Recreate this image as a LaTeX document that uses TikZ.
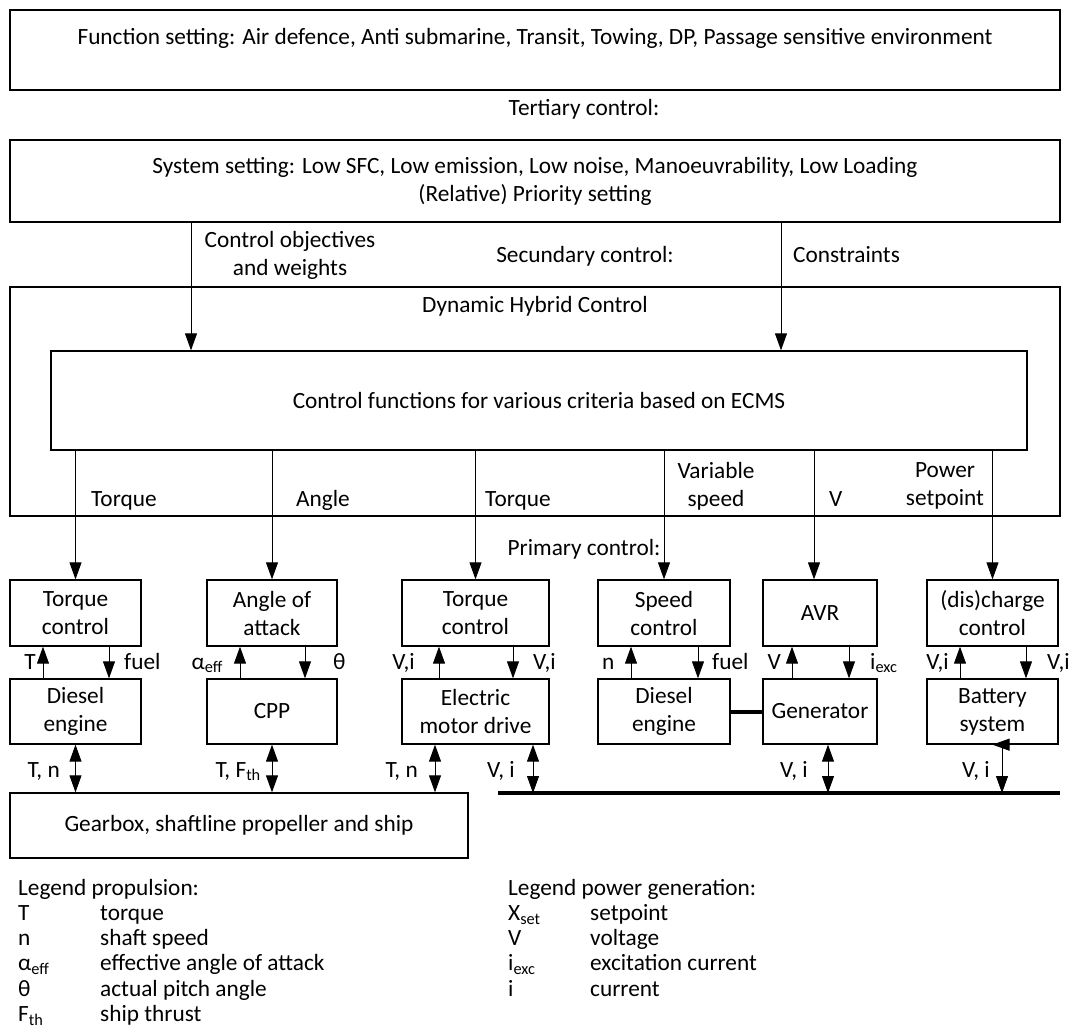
\documentclass[tikz,border=0pt]{standalone}
\usepackage{fontspec}
\setmainfont{Carlito}
\usetikzlibrary{positioning,arrows.meta}

\begin{document}
\begin{tikzpicture}[
			x=1pt, y=-1pt,
			font=\fontsize{23.3}{28}\selectfont,
			% 有边框的方块
			blockbox/.style={rectangle, draw=black, line width=1.3pt, align=center, inner sep=0pt},
			% 信号的文字
			tag/.style={inner sep=0pt, align=center},
			% 单向箭头
			sig/.style={-{Triangle[length=17pt,width=12pt]}, line width=0.9pt},
			% 双向箭头
			bisig/.style={{Triangle[length=17pt,width=12pt]}-{Triangle[length=17pt,width=12pt]}, line width=0.9pt},
			% 粗线: 母线和轴
			busline/.style={line width=4pt}
		]
		\useasboundingbox (0,0) rectangle (1069,1034);

		%Nodes
		\node[blockbox, minimum width=1050, minimum height=80]  (funcset)   at (535,50)     {};
		\node[tag, anchor=base]                                 (functext)  at (535,44)     {Function setting: Air defence, Anti submarine, Transit, Towing, DP, Passage sensitive environment};
		\node[tag, anchor=base]                                 (tertiary)  at (584,115)    {Tertiary control:};
		\node[blockbox, minimum width=1050, minimum height=82]  (sysset)    at (535,181)    {System setting: Low SFC, Low emission, Low noise, Manoeuvrability, Low Loading\\(Relative) Priority setting};
		\node[tag]                                              (objtext)   at (290,255)    {Control objectives\\and weights};
		\node[tag, anchor=base]                                 (secundary) at (585,262)    {Secundary control:};
		\node[tag, anchor=base west]                            (context)   at (793,262)    {Constraints};
		\node[blockbox, minimum width=1050, minimum height=229] (dhc)       at (535,401.5)  {};
		\node[tag, anchor=base]                                 (dhctext)   at (535,312)    {Dynamic Hybrid Control};
		\node[blockbox, minimum width=976, minimum height=99]   (ecms)      at (539,400.5)  {Control functions for various criteria based on ECMS};

		% 下发给各个控制器的设定值
		\node[tag, anchor=base west]                            (settqa)    at (91,506)     {Torque};
		\node[tag, anchor=base west]                            (setangle)  at (296,506)    {Angle};
		\node[tag, anchor=base west]                            (settqb)    at (485,506)    {Torque};
		\node[tag]                                              (setspeed)  at (716,486)    {Variable\\speed};
		\node[tag, anchor=base west]                            (setvolt)   at (829,506)    {V};
		\node[tag]                                              (setpower)  at (945,486)    {Power\\setpoint};
		\node[tag, anchor=base]                                 (primary)   at (584,555)    {Primary control:};

		% 控制器
		\node[blockbox, minimum width=131, minimum height=66]   (tqctrla)   at (75.5,613)   {Torque\\control};
		\node[blockbox, minimum width=130, minimum height=66]   (aoa)       at (272,613)    {Angle of\\attack};
		\node[blockbox, minimum width=147, minimum height=66]   (tqctrlb)   at (475.5,613)  {Torque\\control};
		\node[blockbox, minimum width=132, minimum height=66]   (spdctrl)   at (664,613)    {Speed\\control};
		\node[blockbox, minimum width=114, minimum height=66]   (avr)       at (820,613)    {AVR};
		\node[blockbox, minimum width=131, minimum height=66]   (chgctrl)   at (992.5,613)  {(dis)charge\\control};

		% 设备
		\node[blockbox, minimum width=131, minimum height=65]   (diesela)   at (75.5,711.5) {Diesel\\engine};
		\node[blockbox, minimum width=130, minimum height=65]   (cpp)       at (272,711.5)  {CPP};
		\node[blockbox, minimum width=147, minimum height=65]   (emd)       at (475.5,711.5){Electric\\motor drive};
		\node[blockbox, minimum width=132, minimum height=65]   (dieselb)   at (664,711.5)  {Diesel\\engine};
		\node[blockbox, minimum width=114, minimum height=65]   (gen)       at (820,711.5)  {Generator};
		\node[blockbox, minimum width=131, minimum height=65]   (batt)      at (992.5,711.5){Battery\\system};
		\node[blockbox, minimum width=458, minimum height=65]   (gearbox)   at (239,825.5)  {Gearbox, shaftline propeller and ship};

		% 控制器和设备之间的信号
		\node[tag, anchor=base east]                            (fbtqa)     at (36,669)     {T};
		\node[tag, anchor=base west]                            (fuela)     at (124,669)    {fuel};
		\node[tag, anchor=base east]                            (fbaoa)     at (223,669)    {α\textsubscript{eff}};
		\node[tag, anchor=base west]                            (pitch)     at (333,669)    {θ};
		\node[tag, anchor=base east]                            (fbemd)     at (415,669)    {V,i};
		\node[tag, anchor=base west]                            (cmdemd)    at (533,669)    {V,i};
		\node[tag, anchor=base west]                            (fbspd)     at (602,669)    {n};
		\node[tag, anchor=base west]                            (fuelb)     at (712,669)    {fuel};
		\node[tag, anchor=base east]                            (fbavr)     at (781,669)    {V};
		\node[tag, anchor=base west]                            (iexc)      at (870,669)    {i\textsubscript{exc}};
		\node[tag, anchor=base east]                            (fbchg)     at (949,669)    {V,i};
		\node[tag, anchor=base west]                            (cmdchg)    at (1047,669)   {V,i};

		% 设备和船或电网之间
		\node[tag, anchor=base east]                            (mecha)     at (60,777)     {T, n};
		\node[tag, anchor=base east]                            (mechcpp)   at (261,777)    {T, F\textsubscript{th}};
		\node[tag, anchor=base east]                            (mechemd)   at (418,777)    {T, n};
		\node[tag, anchor=base east]                            (elecemd)   at (515,777)    {V, i};
		\node[tag, anchor=base east]                            (elecgen)   at (808,777)    {V, i};
		\node[tag, anchor=base east]                            (elecbatt)  at (990,777)    {V, i};

		% 看不见的点, 用来定位竖线和母线
		\coordinate (objset)   at (191,0);
		\coordinate (conset)   at (781,0);
		\coordinate (avrset)   at (814,0);
		\coordinate (emdmech)  at (435,0);
		\coordinate (emdelec)  at (533,0);
		\coordinate (genelec)  at (828,0);
		\coordinate (battelec) at (1002,0);
		\coordinate (busl)     at (498,793);
		\coordinate (busr)     at (1060,793);

		% 图例
		\node[tag, anchor=base west] (legprop) at (18,895)  {Legend propulsion:};
		\foreach \sym/\desc [count=\k] in {T/torque, n/shaft speed, α\textsubscript{eff}/effective angle of attack, θ/actual pitch angle, F\textsubscript{th}/ship thrust}{
			\node[tag, anchor=base west] (propsym\k)  at (18,895+25.3*\k)  {\sym};
			\node[tag, anchor=base west] (propdesc\k) at (100,895+25.3*\k) {\desc};
		}
		\node[tag, anchor=base west] (legpower) at (508,895) {Legend power generation:};
		\foreach \sym/\desc [count=\k] in {X\textsubscript{set}/setpoint, V/voltage, i\textsubscript{exc}/excitation current, i/current}{
			\node[tag, anchor=base west] (powsym\k)  at (508,895+25.3*\k) {\sym};
			\node[tag, anchor=base west] (powdesc\k) at (590,895+25.3*\k) {\desc};
		}

		%Lines
		\draw[sig] (sysset.south -| objset)  --  (ecms.north -| objset);
		\draw[sig] (sysset.south -| conset)  --  (ecms.north -| conset);
		\draw[sig] (ecms.south -| tqctrla)   --  (tqctrla.north);
		\draw[sig] (ecms.south -| aoa)       --  (aoa.north);
		\draw[sig] (ecms.south -| tqctrlb)   --  (tqctrlb.north);
		\draw[sig] (ecms.south -| spdctrl)   --  (spdctrl.north);
		\draw[sig] (ecms.south -| avrset)    --  (avr.north -| avrset);
		\draw[sig] (ecms.south -| chgctrl)   --  (chgctrl.north);

		\draw[sig] ([xshift=-32.5]diesela.north) -- ([xshift=-32.5]tqctrla.south);
		\draw[sig] ([xshift=33.5]tqctrla.south)  -- ([xshift=33.5]diesela.north);
		\draw[sig] ([xshift=-32]cpp.north)       -- ([xshift=-32]aoa.south);
		\draw[sig] ([xshift=33]aoa.south)        -- ([xshift=33]cpp.north);
		\draw[sig] ([xshift=-36.5]emd.north)     -- ([xshift=-36.5]tqctrlb.south);
		\draw[sig] ([xshift=37.5]tqctrlb.south)  -- ([xshift=37.5]emd.north);
		\draw[sig] ([xshift=-33]dieselb.north)   -- ([xshift=-33]spdctrl.south);
		\draw[sig] ([xshift=34]spdctrl.south)    -- ([xshift=34]dieselb.north);
		\draw[sig] ([xshift=-28]gen.north)       -- ([xshift=-28]avr.south);
		\draw[sig] ([xshift=29]avr.south)        -- ([xshift=29]gen.north);
		\draw[sig] ([xshift=-32.5]batt.north)    -- ([xshift=-32.5]chgctrl.south);
		\draw[sig] ([xshift=33.5]chgctrl.south)  -- ([xshift=33.5]batt.north);

		\draw[bisig] (diesela.south)        -- (gearbox.north -| diesela);
		\draw[bisig] (cpp.south)            -- (gearbox.north -| cpp);
		\draw[bisig] (emd.south -| emdmech) -- (gearbox.north -| emdmech);
		\draw[bisig] (emd.south -| emdelec) -- (busl -| emdelec);
		\draw[bisig] (gen.south -| genelec) -- (busl -| genelec);
		% 电池: 竖线接到方块底边, 箭头朝左
		\draw[bisig] (busl -| battelec)     |- (batt.south);

		\draw[busline] (dieselb.east) -- (gen.west);
		\draw[busline] (busl)         -- (busr);
	\end{tikzpicture}
\end{document}
